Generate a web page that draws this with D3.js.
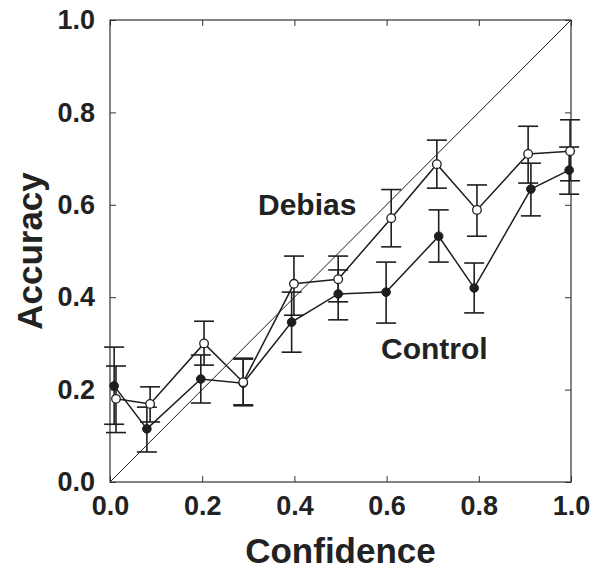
<!DOCTYPE html>
<html>
<head>
<meta charset="utf-8">
<script src="https://cdn.jsdelivr.net/npm/d3@7/dist/d3.min.js"></script>
<style>
  html, body { margin: 0; padding: 0; background: #fff; }
  svg { display: block; }
  text { font-family: "Liberation Sans", Arial, sans-serif; font-weight: bold; fill: #222; }
</style>
</head>
<body>
<svg id="chart" width="591" height="572"></svg>
<script>
// ---- data ----
const ticks = [0.0, 0.2, 0.4, 0.6, 0.8, 1.0];
const tickLabels = ["0.0", "0.2", "0.4", "0.6", "0.8", "1.0"];

const confDebias = [0.013, 0.087, 0.204, 0.289, 0.399, 0.495, 0.610, 0.709, 0.796, 0.907, 0.998];
const accDebias  = [0.180, 0.169, 0.300, 0.216, 0.429, 0.439, 0.571, 0.688, 0.589, 0.710, 0.716];
const loDebias   = [0.107, 0.130, 0.253, 0.167, 0.361, 0.390, 0.509, 0.636, 0.532, 0.647, 0.652];
const hiDebias   = [0.251, 0.206, 0.348, 0.266, 0.489, 0.489, 0.633, 0.740, 0.643, 0.770, 0.784];

const confControl = [0.009, 0.080, 0.197, 0.289, 0.394, 0.495, 0.599, 0.713, 0.790, 0.913, 0.996];
const accControl  = [0.208, 0.115, 0.223, 0.214, 0.346, 0.407, 0.411, 0.532, 0.420, 0.634, 0.675];
const loControl   = [0.125, 0.065, 0.171, 0.165, 0.281, 0.351, 0.344, 0.476, 0.366, 0.576, 0.623];
const hiControl   = [0.292, 0.162, 0.275, 0.268, 0.411, 0.459, 0.476, 0.589, 0.474, 0.690, 0.725];

const seriesNames = ["Control", "Debias"];
const xTitle = "Confidence";
const yTitle = "Accuracy";

// ---- layout ----
const svg = d3.select("#chart");
const L = 110, R = 571, T = 20, B = 482;
const x = d3.scaleLinear().domain([0, 1]).range([L, R]);
const y = d3.scaleLinear().domain([0, 1]).range([B, T]);
const ink = "#1e1e1e";

// axes with inward ticks
const tickLen = 6;
svg.append("g").attr("transform", `translate(0,${B})`)
  .call(d3.axisBottom(x).tickValues(ticks).tickSizeInner(-tickLen).tickSizeOuter(0).tickFormat((d, i) => tickLabels[i]).tickPadding(14))
  .call(g => g.select(".domain").remove())
  .call(g => g.selectAll("line").attr("stroke", "#333"))
  .call(g => g.selectAll("text").attr("font-size", 27).attr("font-family", "Liberation Sans, Arial, sans-serif").attr("font-weight", "bold").attr("fill", ink));
svg.append("g").attr("transform", `translate(0,${T})`)
  .call(d3.axisTop(x).tickValues(ticks).tickSizeInner(-tickLen).tickSizeOuter(0).tickFormat(""))
  .call(g => g.select(".domain").remove())
  .call(g => g.selectAll("line").attr("stroke", "#333"));
svg.append("g").attr("transform", `translate(${L},0)`)
  .call(d3.axisLeft(y).tickValues(ticks).tickSizeInner(-tickLen).tickSizeOuter(0).tickFormat((d, i) => tickLabels[i]).tickPadding(15))
  .call(g => g.select(".domain").remove())
  .call(g => g.selectAll("line").attr("stroke", "#333"))
  .call(g => g.selectAll("text").attr("font-size", 27).attr("font-family", "Liberation Sans, Arial, sans-serif").attr("font-weight", "bold").attr("fill", ink));
svg.append("g").attr("transform", `translate(${R},0)`)
  .call(d3.axisRight(y).tickValues(ticks).tickSizeInner(-tickLen).tickSizeOuter(0).tickFormat(""))
  .call(g => g.select(".domain").remove())
  .call(g => g.selectAll("line").attr("stroke", "#333"));

// frame
svg.append("rect").attr("x", L).attr("y", T).attr("width", R - L).attr("height", B - T)
  .attr("fill", "none").attr("stroke", "#333").attr("stroke-width", 1.2);

// diagonal
svg.append("line").attr("x1", x(0)).attr("y1", y(0)).attr("x2", x(1)).attr("y2", y(1))
  .attr("stroke", ink).attr("stroke-width", 1);

function drawSeries(conf, acc, lo, hi, filled) {
  const g = svg.append("g");
  const capW = 10;
  conf.forEach((c, i) => {
    const cx = x(c);
    g.append("line").attr("x1", cx).attr("x2", cx).attr("y1", y(lo[i])).attr("y2", y(hi[i]))
      .attr("stroke", ink).attr("stroke-width", 1.6);
    [lo[i], hi[i]].forEach(v => {
      g.append("line").attr("x1", cx - capW).attr("x2", cx + capW).attr("y1", y(v)).attr("y2", y(v))
        .attr("stroke", ink).attr("stroke-width", 1.6);
    });
  });
  const line = d3.line().x((d, i) => x(conf[i])).y(d => y(d));
  g.append("path").attr("d", line(acc)).attr("fill", "none").attr("stroke", ink).attr("stroke-width", 1.5);
  return g;
}

const gC = drawSeries(confControl, accControl, loControl, hiControl, true);
const gD = drawSeries(confDebias, accDebias, loDebias, hiDebias, false);

svg.append("g").selectAll("circle").data(accControl).join("circle")
  .attr("cx", (d, i) => x(confControl[i])).attr("cy", d => y(d)).attr("r", 4.3)
  .attr("fill", ink).attr("stroke", ink).attr("stroke-width", 1);
svg.append("g").selectAll("circle").data(accDebias).join("circle")
  .attr("cx", (d, i) => x(confDebias[i])).attr("cy", d => y(d)).attr("r", 4.3)
  .attr("fill", "#fff").attr("stroke", ink).attr("stroke-width", 1.3);

// series labels
svg.append("text").attr("x", 258).attr("y", 215).attr("font-size", 30).text(seriesNames[1]);
svg.append("text").attr("x", 381).attr("y", 359).attr("font-size", 30).text(seriesNames[0]);

// axis titles
svg.append("text").attr("x", (L + R) / 2).attr("y", 563).attr("text-anchor", "middle")
  .attr("font-size", 35).text(xTitle);
svg.append("text").attr("transform", `translate(42,${(T + B) / 2}) rotate(-90)`).attr("text-anchor", "middle")
  .attr("font-size", 35).text(yTitle);
</script>
</body>
</html>
